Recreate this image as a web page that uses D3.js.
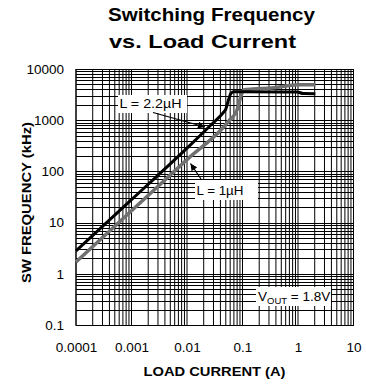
<!DOCTYPE html>
<html><head><meta charset="utf-8">
<script src="https://cdn.jsdelivr.net/npm/d3@7"></script>
<style>
html,body{margin:0;padding:0;background:#fff;}
svg{display:block;font-family:"Liberation Sans",Arial,sans-serif;}
</style></head>
<body><svg id="c" width="366" height="387"></svg>
<script>
// ---- data ----
const xTicks = [0.0001, 0.001, 0.01, 0.1, 1, 10];
const xTickLabels = ["0.0001", "0.001", "0.01", "0.1", "1", "10"];
const yTicks = [0.1, 1, 10, 100, 1000, 10000];
const yTickLabels = ["0.1", "1", "10", "100", "1000", "10000"];

// L = 2.2uH (black)
const currentL22 = [0.0001, 0.001, 0.01, 0.03, 0.045, 0.05, 0.056, 0.062, 0.07, 0.1, 0.5, 0.96, 1.25, 2.05];
const freqL22    = [2.8,    28,    285,  900,  1400,  1650, 2500,  3350,  3600, 3580, 3560, 3560, 3320, 3300];

// L = 1uH (gray)
const currentL1 = [0.0001, 0.001, 0.01, 0.056, 0.08, 0.095, 0.105, 0.15, 0.34, 1.0, 2.05];
const freqL1    = [1.7,    17,    170,  950,   1600, 3100,  3900,  4050, 4250, 4900, 4900];

const titleLines = ["Switching Frequency", "vs. Load Current"];
const xLabel = "LOAD CURRENT (A)";
const yLabel = "SW FREQUENCY (kHz)";

// ---- layout ----
const svg = d3.select("#c");
const L = 76, R = 353.5, T = 69, B = 325;
const x = d3.scaleLog().domain([0.0001, 10]).range([L, R]);
const y = d3.scaleLog().domain([0.1, 10000]).range([B, T]);

// grid
const grid = svg.append("g");
const gridVals = (lo, hi) => {
  const out = [];
  for (let e = lo; e < hi; e++) for (let m = 1; m <= 9; m++) out.push(m * Math.pow(10, e));
  out.push(Math.pow(10, hi));
  return out;
};
gridVals(-4, 1).forEach(v => {
  const px = x(v);
  grid.append("line").attr("x1", px).attr("x2", px).attr("y1", T).attr("y2", B)
    .attr("stroke", "#000").attr("stroke-width", 1);
});
gridVals(-1, 4).forEach(v => {
  const py = Math.round(y(v)) + 0.5;
  grid.append("line").attr("x1", L).attr("x2", R).attr("y1", py).attr("y2", py)
    .attr("stroke", "#000").attr("stroke-width", 1);
});
svg.append("rect").attr("x", L).attr("y", T + 0.5).attr("width", R - L).attr("height", B - T)
  .attr("fill", "none").attr("stroke", "#000").attr("stroke-width", 1);

// label boxes (white, hide grid)
const boxes = [
  {x: 118, y: 95, w: 69, h: 18},
  {x: 195, y: 180, w: 63, h: 20},
  {x: 256, y: 287, w: 75, h: 19}
];
boxes.forEach(b => svg.append("rect").attr("x", b.x).attr("y", b.y).attr("width", b.w).attr("height", b.h).attr("fill", "#fff"));

// curves
const line = d3.line().x(d => x(d[0])).y(d => y(d[1])).curve(d3.curveMonotoneX);
svg.append("path").datum(d3.zip(currentL1, freqL1)).attr("d", line)
  .attr("fill", "none").attr("stroke", "#707070").attr("stroke-width", 3.5).attr("stroke-linejoin", "round");
svg.append("path").datum(d3.zip(currentL22, freqL22)).attr("d", line)
  .attr("fill", "none").attr("stroke", "#000").attr("stroke-width", 3).attr("stroke-linejoin", "round");

// arrows
svg.append("defs").append("marker").attr("id", "ah").attr("viewBox", "0 0 10 10")
  .attr("refX", 10).attr("refY", 5).attr("markerWidth", 9).attr("markerHeight", 7)
  .attr("markerUnits", "userSpaceOnUse").attr("orient", "auto")
  .append("path").attr("d", "M0,0 L10,5 L0,10 Z").attr("fill", "#000");
svg.append("line").attr("x1", 153).attr("y1", 112.5).attr("x2", 205).attr("y2", 127)
  .attr("stroke", "#000").attr("stroke-width", 1.2).attr("marker-end", "url(#ah)");
svg.append("line").attr("x1", 201).attr("y1", 179).attr("x2", 190.5).attr("y2", 163.5)
  .attr("stroke", "#000").attr("stroke-width", 1.2).attr("marker-end", "url(#ah)");

// annotation text
svg.append("text").attr("x", 119.5).attr("y", 107.5).attr("font-size", 13.5).attr("fill", "#000")
  .attr("textLength", 62).attr("lengthAdjust", "spacingAndGlyphs").text("L = 2.2µH");
svg.append("text").attr("x", 196.5).attr("y", 195).attr("font-size", 13.5).attr("fill", "#000")
  .attr("textLength", 47).attr("lengthAdjust", "spacingAndGlyphs").text("L = 1µH");
const vt = svg.append("text").attr("x", 258).attr("y", 301).attr("font-size", 13.5).attr("fill", "#000");
vt.append("tspan").text("V");
vt.append("tspan").attr("font-size", 9.5).attr("dy", 2.5).text("OUT");
vt.append("tspan").attr("dy", -2.5).text(" = 1.8V");

// axes (labels only)
const xa = svg.append("g").attr("transform", `translate(0,${B})`)
  .call(d3.axisBottom(x).tickValues(xTicks).tickSize(0).tickPadding(17)
    .tickFormat((d, i) => xTickLabels[i]));
xa.select(".domain").remove();
xa.selectAll("text").attr("font-size", 13.5).attr("font-family", "Liberation Sans,Arial,sans-serif").attr("fill", "#000");

const ya = svg.append("g").attr("transform", `translate(${L},0)`)
  .call(d3.axisLeft(y).tickValues(yTicks).tickSize(0).tickPadding(12)
    .tickFormat((d, i) => yTickLabels[i]));
ya.select(".domain").remove();
ya.selectAll("text").attr("font-size", 13.5).attr("font-family", "Liberation Sans,Arial,sans-serif").attr("fill", "#000");

// titles
svg.append("text").attr("x", 108).attr("y", 21).attr("font-size", 18).attr("font-weight", "bold")
  .attr("textLength", 207).attr("lengthAdjust", "spacingAndGlyphs").text(titleLines[0]);
svg.append("text").attr("x", 109).attr("y", 47.5).attr("font-size", 18).attr("font-weight", "bold")
  .attr("textLength", 187).attr("lengthAdjust", "spacingAndGlyphs").text(titleLines[1]);

svg.append("text").attr("x", 143.5).attr("y", 376).attr("font-size", 12.5).attr("font-weight", "bold")
  .attr("textLength", 142).attr("lengthAdjust", "spacingAndGlyphs").text(xLabel);
svg.append("text").attr("transform", "translate(30.5,283) rotate(-90)").attr("font-size", 12.5).attr("font-weight", "bold")
  .attr("textLength", 161).attr("lengthAdjust", "spacingAndGlyphs").text(yLabel);
</script></body></html>
